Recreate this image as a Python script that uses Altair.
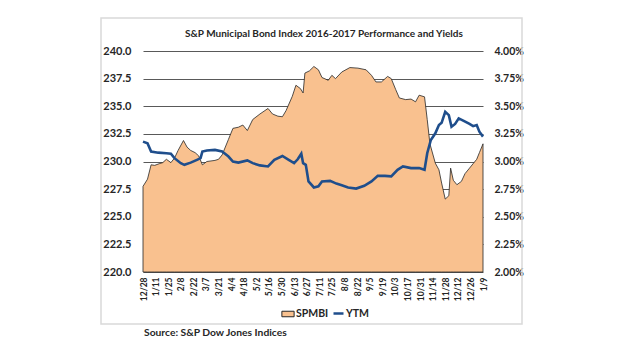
import altair as alt
import pandas as pd

TITLE = "S&P Municipal Bond Index 2016-2017 Performance and Yields"
SOURCE = "Source: S&P Dow Jones Indices"
FONT = "Lato"
PEACH = "#F9C18F"
BLUE = "#1F4E8C"
DARK = "#262626"

spmbi_dates = [
    "2015-12-28", "2016-01-02", "2016-01-06", "2016-01-10", "2016-01-15", "2016-01-19",
    "2016-01-23", "2016-01-28", "2016-02-01", "2016-02-05", "2016-02-11", "2016-02-15",
    "2016-02-19", "2016-02-24", "2016-02-28", "2016-03-03", "2016-03-08", "2016-03-17",
    "2016-03-21", "2016-03-25", "2016-04-01", "2016-04-06", "2016-04-12", "2016-04-17",
    "2016-04-22", "2016-04-28", "2016-05-06", "2016-05-15", "2016-05-20", "2016-05-26",
    "2016-05-31", "2016-06-04", "2016-06-11", "2016-06-15", "2016-06-20", "2016-06-23",
    "2016-06-25", "2016-06-30", "2016-07-05", "2016-07-10", "2016-07-14", "2016-07-21",
    "2016-07-25", "2016-07-29", "2016-08-05", "2016-08-14", "2016-08-23", "2016-09-01",
    "2016-09-07", "2016-09-12", "2016-09-18", "2016-09-25", "2016-09-29", "2016-10-04",
    "2016-10-08", "2016-10-15", "2016-10-21", "2016-10-26", "2016-10-30", "2016-11-05",
    "2016-11-08", "2016-11-11", "2016-11-17", "2016-11-21", "2016-11-24", "2016-11-28",
    "2016-12-02", "2016-12-04", "2016-12-07", "2016-12-11", "2016-12-16", "2016-12-20",
    "2016-12-25", "2016-12-29", "2017-01-02", "2017-01-05", "2017-01-09",
]
spmbi_values = [
    227.75, 228.4, 229.7, 229.65, 229.8, 229.9,
    230.2, 229.9, 230.3, 231.0, 231.9, 231.3,
    231.0, 230.8, 230.5, 229.7, 230.0, 230.1,
    230.2, 230.6, 232.0, 233.0, 233.1, 233.3,
    232.8, 233.8, 234.3, 234.8, 234.3, 234.1,
    234.05, 234.6, 235.9, 236.9, 236.6, 236.2,
    238.0, 238.2, 238.6, 238.3, 237.6, 237.35,
    237.8, 237.5, 238.1, 238.5, 238.45, 238.3,
    237.8, 237.2, 237.2, 237.7, 237.5, 236.5,
    235.75, 235.6, 235.65, 235.4, 236.0, 235.85,
    233.8, 231.6, 229.85, 229.25, 228.05, 226.6,
    226.9, 229.4, 228.3, 227.9, 228.2, 228.9,
    229.4, 229.8, 230.2, 230.8, 231.6,
]

ytm_dates = [
    "2015-12-28", "2016-01-02", "2016-01-06", "2016-01-14", "2016-01-23", "2016-01-28",
    "2016-02-01", "2016-02-08", "2016-02-12", "2016-02-19", "2016-02-26", "2016-03-01",
    "2016-03-03", "2016-03-08", "2016-03-17", "2016-03-25", "2016-04-01", "2016-04-06",
    "2016-04-12", "2016-04-22", "2016-04-28", "2016-05-06", "2016-05-15", "2016-05-22",
    "2016-05-31", "2016-06-07", "2016-06-13", "2016-06-17", "2016-06-21", "2016-06-23",
    "2016-06-26", "2016-06-29", "2016-07-05", "2016-07-10", "2016-07-14", "2016-07-23",
    "2016-07-30", "2016-08-05", "2016-08-12", "2016-08-21", "2016-08-30", "2016-09-07",
    "2016-09-14", "2016-09-22", "2016-09-29", "2016-10-06", "2016-10-12", "2016-10-21",
    "2016-10-30", "2016-11-05", "2016-11-08", "2016-11-12", "2016-11-17", "2016-11-21",
    "2016-11-24", "2016-11-28", "2016-12-02", "2016-12-05", "2016-12-09", "2016-12-13",
    "2016-12-18", "2016-12-25", "2016-12-29", "2017-01-02", "2017-01-05", "2017-01-09",
]
ytm_values = [
    3.18, 3.165, 3.09, 3.08, 3.075, 3.07,
    3.03, 2.985, 2.97, 2.99, 3.015, 3.03,
    3.09, 3.10, 3.105, 3.09, 3.045, 3.00,
    2.99, 3.01, 2.985, 2.965, 2.955, 3.015,
    3.05, 3.015, 2.985, 3.02, 3.07, 2.985,
    2.97, 2.82, 2.765, 2.775, 2.82, 2.825,
    2.80, 2.785, 2.765, 2.755, 2.78, 2.82,
    2.87, 2.87, 2.865, 2.925, 2.955, 2.94,
    2.94, 2.925, 3.075, 3.195, 3.255, 3.33,
    3.35, 3.45, 3.42, 3.315, 3.34, 3.39,
    3.37, 3.34, 3.32, 3.33, 3.27, 3.225,
]

tick_dates = [
    "2015-12-28", "2016-01-11", "2016-01-25", "2016-02-08", "2016-02-22", "2016-03-07",
    "2016-03-21", "2016-04-04", "2016-04-18", "2016-05-02", "2016-05-16", "2016-05-30",
    "2016-06-13", "2016-06-27", "2016-07-11", "2016-07-25", "2016-08-08", "2016-08-22",
    "2016-09-05", "2016-09-19", "2016-10-03", "2016-10-17", "2016-10-31", "2016-11-14",
    "2016-11-28", "2016-12-12", "2016-12-26", "2017-01-09",
]
left_ticks = [220.0, 222.5, 225.0, 227.5, 230.0, 232.5, 235.0, 237.5, 240.0]
right_ticks = [2.00, 2.25, 2.50, 2.75, 3.00, 3.25, 3.50, 3.75, 4.00]


def dt(s):
    y, m, d = (int(p) for p in s.split("-"))
    return alt.DateTime(year=y, month=m, date=d)


df_s = pd.DataFrame({"date": [d + "T00:00:00" for d in spmbi_dates],
                     "value": spmbi_values, "series": "SPMBI"})
df_y = pd.DataFrame({"date": [d + "T00:00:00" for d in ytm_dates],
                     "value": ytm_values, "series": "YTM"})

x_enc = alt.X(
    "date:T",
    scale=alt.Scale(domain=[dt(tick_dates[0]), dt(tick_dates[-1])]),
    axis=alt.Axis(
        values=[dt(t) for t in tick_dates],
        labelExpr="timeFormat(datum.value, '%-m/%-d')",
        labelAngle=270, labelFontSize=8.5, labelFont=FONT, labelFontWeight="bold",
        labelColor=DARK, ticks=False, domain=False, grid=False, title=None,
        labelPadding=5, labelOverlap=False, labelFlush=False,
    ),
)

frame = alt.Chart(pd.DataFrame({"a": [0]})).mark_rect(
    fillOpacity=0, stroke="#D9D9D9", strokeWidth=1.5
).encode(x=alt.value(-42), x2=alt.value(379), y=alt.value(-33), y2=alt.value(273))

area = alt.Chart(df_s).mark_area(stroke=DARK, strokeWidth=0.8).encode(
    x=x_enc,
    y=alt.Y(
        "value:Q",
        scale=alt.Scale(domain=[220, 240], nice=False, zero=False),
        axis=alt.Axis(
            values=left_ticks, format=".1f", grid=True, gridColor="#595959",
            gridWidth=1, ticks=False, domain=False, title=None, labelPadding=12,
            labelFontSize=11, labelFont=FONT, labelFontWeight="bold", labelColor=DARK,
        ),
    ),
    y2=alt.datum(220),
    color=alt.Color(
        "series:N",
        scale=alt.Scale(domain=["SPMBI"], range=[PEACH]),
        legend=alt.Legend(
            orient="none", legendX=138, legendY=256, title=None, padding=0,
            symbolType="M-1,-0.45H1V0.45H-1Z", symbolSize=150,
            symbolStrokeColor=DARK, symbolStrokeWidth=1, symbolOpacity=1,
            labelFont=FONT, labelFontSize=10.5, labelFontWeight="bold",
            labelColor=DARK, labelOffset=1,
        ),
    ),
)

line = alt.Chart(df_y).mark_line(strokeWidth=2.6).encode(
    x=x_enc,
    y=alt.Y(
        "value:Q",
        scale=alt.Scale(domain=[2, 4], nice=False, zero=False),
        axis=alt.Axis(
            orient="right", values=right_ticks,
            labelExpr="format(datum.value, '.2f') + '%'",
            grid=False, ticks=False, domain=False, title=None, labelPadding=11,
            labelFontSize=10.5, labelFont=FONT, labelFontWeight="bold", labelColor=DARK,
        ),
    ),
    color=alt.Color(
        "series:N",
        scale=alt.Scale(domain=["YTM"], range=[BLUE]),
        legend=alt.Legend(
            orient="none", legendX=189, legendY=256, title=None, padding=0,
            symbolType="stroke", symbolSize=100, symbolStrokeWidth=2.5,
            labelFont=FONT, labelFontSize=10.5, labelFontWeight="bold",
            labelColor=DARK, labelOffset=1,
        ),
    ),
)

title = alt.Chart(pd.DataFrame({"t": [TITLE]})).mark_text(
    font=FONT, fontSize=10, fontWeight="bold", color=DARK, align="center", baseline="middle"
).encode(x=alt.value(181), y=alt.value(-17), text="t:N")

source = alt.Chart(pd.DataFrame({"t": [SOURCE]})).mark_text(
    font=FONT, fontSize=10.3, fontWeight="bold", color=DARK, align="left", baseline="middle"
).encode(x=alt.value(1), y=alt.value(282), text="t:N")

chart = (
    alt.layer(frame, area, line, title, source)
    .resolve_scale(y="independent", color="independent")
    .properties(
        width=340, height=221,
        autosize=alt.AutoSizeParams(type="none"),
        padding={"left": 143, "top": 51, "right": 140, "bottom": 79},
        background="white",
    )
    .configure_view(stroke=None)
    .configure_axisX(labelOverlap=False)
)

chart.save("out.html", embed_options={"renderer": "svg", "actions": False})
